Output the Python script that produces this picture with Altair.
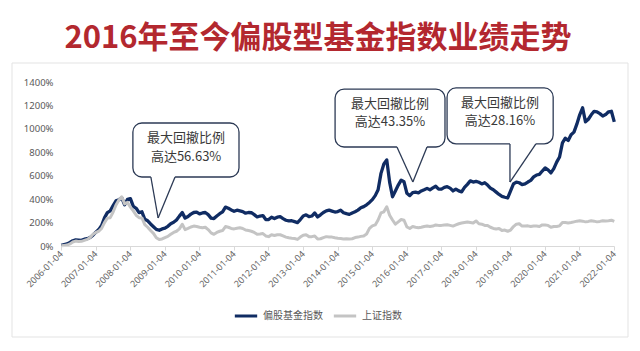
import altair as alt
import pandas as pd

TITLE = "2016年至今偏股型基金指数业绩走势"
SERIES = ["偏股基金指数", "上证指数"]
COLORS = ["#102c63", "#c4c4c4"]

# monthly observations, 2006-01 .. 2022-01
MONTHS = [f"{y}-{m:02d}" for y in range(2006, 2022) for m in range(1, 13)] + ["2022-01"]

# cumulative return (%) of the equity fund index
FUND = [
    5, 12, 18, 30, 45, 52, 50, 48, 58, 62, 72, 92,                     # 2006
    118, 140, 175, 240, 285, 300, 345, 385, 395, 410, 352, 398,        # 2007
    405, 338, 322, 285, 292, 228, 215, 188, 165, 142, 134, 146,        # 2008
    152, 168, 190, 202, 222, 255, 285, 238, 252, 272, 286, 290,        # 2009
    274, 282, 286, 268, 238, 234, 256, 276, 292, 332, 322, 308,        # 2010
    296, 306, 300, 294, 280, 286, 284, 268, 248, 256, 260, 226,        # 2011
    226, 246, 234, 246, 250, 234, 220, 214, 216, 208, 200, 226,        # 2012
    256, 266, 250, 256, 282, 248, 266, 286, 300, 306, 298, 290,        # 2013
    294, 306, 284, 276, 270, 282, 292, 306, 326, 336, 352, 372,        # 2014
    396, 430, 480, 620, 700, 735, 545, 420, 470, 520, 562, 548,        # 2015
    450, 430, 456, 460, 454, 470, 480, 492, 480, 496, 510, 486,        # 2016
    486, 500, 506, 494, 470, 486, 470, 462, 500, 526, 556, 546,        # 2017
    552, 544, 530, 540, 520, 494, 480, 460, 440, 424, 416, 410,        # 2018
    470, 530, 546, 540, 524, 530, 546, 560, 590, 606, 612, 640,        # 2019
    666, 650, 624, 660, 716, 760, 880, 920, 900, 950, 972, 1040,       # 2020
    1120, 1180, 1060, 1082, 1120, 1150, 1145, 1130, 1110, 1122, 1146, 1150,  # 2021
    1060,                                                              # 2022
]

# cumulative return (%) of the Shanghai Composite
SSE = [
    2, 5, 8, 18, 34, 42, 38, 40, 48, 56, 72, 100,                      # 2006
    116, 126, 150, 200, 238, 242, 290, 350, 392, 420, 360, 372,        # 2007
    332, 300, 262, 242, 240, 182, 160, 132, 108, 70, 55, 60,           # 2008
    72, 82, 100, 116, 126, 146, 186, 140, 150, 162, 170, 166,          # 2009
    160, 156, 160, 140, 112, 100, 116, 126, 132, 166, 160, 150,        # 2010
    146, 152, 156, 150, 136, 132, 126, 116, 100, 102, 106, 86,         # 2011
    80, 96, 90, 96, 96, 86, 76, 70, 66, 64, 56, 76,                    # 2012
    92, 96, 80, 80, 86, 60, 62, 72, 80, 76, 76, 70,                    # 2013
    66, 64, 60, 62, 60, 62, 72, 76, 82, 86, 102, 150,                  # 2014
    172, 180, 222, 282, 292, 335, 262, 222, 186, 206, 226, 220,        # 2015
    162, 150, 166, 160, 156, 160, 166, 170, 166, 170, 180, 176,        # 2016
    176, 180, 182, 176, 170, 180, 190, 196, 200, 204, 200, 196,        # 2017
    214, 190, 186, 176, 176, 160, 150, 146, 150, 132, 136, 126,        # 2018
    136, 166, 186, 190, 170, 170, 172, 166, 170, 170, 166, 180,        # 2019
    180, 176, 160, 166, 166, 172, 200, 200, 196, 200, 206, 212,        # 2020
    216, 212, 206, 210, 216, 212, 206, 210, 216, 214, 216, 220,        # 2021
    210,                                                               # 2022
]

X_TICKS = list(range(2006, 2023))
Y_TICKS = [0, 200, 400, 600, 800, 1000, 1200, 1400]

# callouts (data units): box left/right/bottom/top, pointer base left/right, tip
CALL_LINE1 = ["最大回撤比例", "最大回撤比例", "最大回撤比例"]
CALL_LINE2 = ["高达56.63%", "高达43.35%", "高达28.16%"]
BOX_X1 = [2008.08, 2013.93, 2017.17]
BOX_X2 = [2011.15, 2017.11, 2020.24]
BOX_Y1 = [589, 845, 871]
BOX_Y2 = [1050, 1340, 1349]
BASE_L = [2008.60, 2015.72, 2018.99]
BASE_R = [2009.30, 2016.59, 2019.74]
TIP_X = [2008.81, 2016.18, 2018.99]
TIP_Y = [239, 546, 546]
TXT_X = [2009.62, 2015.52, 2018.70]
TXT_Y1 = [925, 1215, 1224]
TXT_Y2 = [760, 1059, 1067]


def dec_year(s):
    y, m = s.split("-")
    return int(y) + (int(m) - 1) / 12 + 3 / 365


t = [dec_year(s) for s in MONTHS]
df = pd.concat([
    pd.DataFrame({"t": t, "v": FUND, "series": SERIES[0]}),
    pd.DataFrame({"t": t, "v": SSE, "series": SERIES[1]}),
])

boxes = pd.DataFrame({"x1": BOX_X1, "x2": BOX_X2, "y1": BOX_Y1, "y2": BOX_Y2,
                      "bl": BASE_L, "br": BASE_R, "tx": TIP_X, "ty": TIP_Y,
                      "cx": TXT_X, "l1y": TXT_Y1, "l2y": TXT_Y2,
                      "l1": CALL_LINE1, "l2": CALL_LINE2})
sides = pd.concat([
    pd.DataFrame({"a": BASE_L, "ay": BOX_Y1, "b": TIP_X, "by": TIP_Y}),
    pd.DataFrame({"a": BASE_R, "ay": BOX_Y1, "b": TIP_X, "by": TIP_Y}),
])

xscale = alt.Scale(domain=[2006, 2022], nice=False, zero=False)
yscale = alt.Scale(domain=[0, 1400], nice=False)

X_AXIS = alt.Axis(values=X_TICKS, labelExpr="datum.value + '-01-04'",
                  labelAngle=-45, labelAlign="right", labelBaseline="middle",
                  labelFontSize=9, labelColor="#666666", labelPadding=2,
                  labelFont="Noto Sans", grid=False,
                  domainColor="#d9d9d9", tickColor="#d9d9d9", tickSize=4,
                  labelOverlap=False, labelBound=False, labelFlush=False,
                  zindex=1)
Y_AXIS = alt.Axis(values=Y_TICKS, labelExpr="datum.value + '%'", grid=False,
                  domain=False, ticks=False, labelPadding=8, labelFontSize=9.5,
                  labelColor="#595959", labelFont="Noto Sans",
                  labelOverlap=False, labelFlush=False, zindex=1)


def ax(field):
    return alt.X(field, scale=xscale, axis=X_AXIS, title=None)


def ay(field):
    return alt.Y(field, scale=yscale, axis=Y_AXIS, title=None)


color = alt.Color("series:N", scale=alt.Scale(domain=SERIES, range=COLORS),
                  legend=alt.Legend(title=None, orient="none", legendX=172, legendY=221,
                                    direction="horizontal", symbolType="stroke",
                                    symbolStrokeWidth=3, symbolSize=500,
                                    labelFontSize=10, labelColor="#595959",
                                    labelFont="Noto Sans CJK SC", columnPadding=4,
                                    labelOffset=4))

one = pd.DataFrame({"k": [0]})

frame = alt.Chart(one).mark_rect(filled=False, stroke="#e3e3e3", strokeWidth=1).encode(
    x=alt.value(-49), x2=alt.value(567), y=alt.value(-19), y2=alt.value(255))

title = alt.Chart(one).mark_text(text=TITLE, font="Noto Sans CJK SC", fontSize=31,
                                 fontWeight="bold", color="#b3282f", align="center",
                                 baseline="middle").encode(
    x=alt.value(257), y=alt.value(-43))

base = alt.Chart(df)
fund_line = base.transform_filter(alt.datum.series == SERIES[0]).mark_line(
    strokeWidth=3.3, strokeJoin="round").encode(x=ax("t:Q"), y=ay("v:Q"), color=color)
sse_line = base.transform_filter(alt.datum.series == SERIES[1]).mark_line(
    strokeWidth=3, strokeJoin="round").encode(x=ax("t:Q"), y=ay("v:Q"), color=color)

BOXC = "#2c3a55"
box = alt.Chart(boxes).mark_rect(fill="white", stroke=BOXC, strokeWidth=1.3,
                                 cornerRadius=9).encode(
    x=ax("x1:Q"), x2="x2:Q", y=ay("y1:Q"), y2="y2:Q")
gap = alt.Chart(boxes).mark_rule(color="white", strokeWidth=3).encode(
    x=ax("bl:Q"), x2="br:Q", y=ay("y1:Q"))
side = alt.Chart(sides).mark_rule(color=BOXC, strokeWidth=1.3).encode(
    x=ax("a:Q"), x2="b:Q", y=ay("ay:Q"), y2="by:Q")
txt1 = alt.Chart(boxes).mark_text(font="Noto Sans CJK SC", fontSize=13,
                                  color="#3a3a3a", baseline="middle").encode(
    x=ax("cx:Q"), y=ay("l1y:Q"), text="l1:N")
txt2 = alt.Chart(boxes).mark_text(font="Noto Sans CJK SC", fontSize=13,
                                  color="#3a3a3a", baseline="middle").encode(
    x=ax("cx:Q"), y=ay("l2y:Q"), text="l2:N")

chart = alt.layer(frame, title, fund_line, sse_line, box, gap, side, txt1, txt2).properties(
    width=553, height=164,
    padding={"left": 61, "top": 82, "right": 26, "bottom": 105},
    autosize=alt.AutoSizeParams(type="none"),
    background="white",
).configure_view(stroke=None)

chart.save("out.html", embed_options={"renderer": "svg", "actions": False})
